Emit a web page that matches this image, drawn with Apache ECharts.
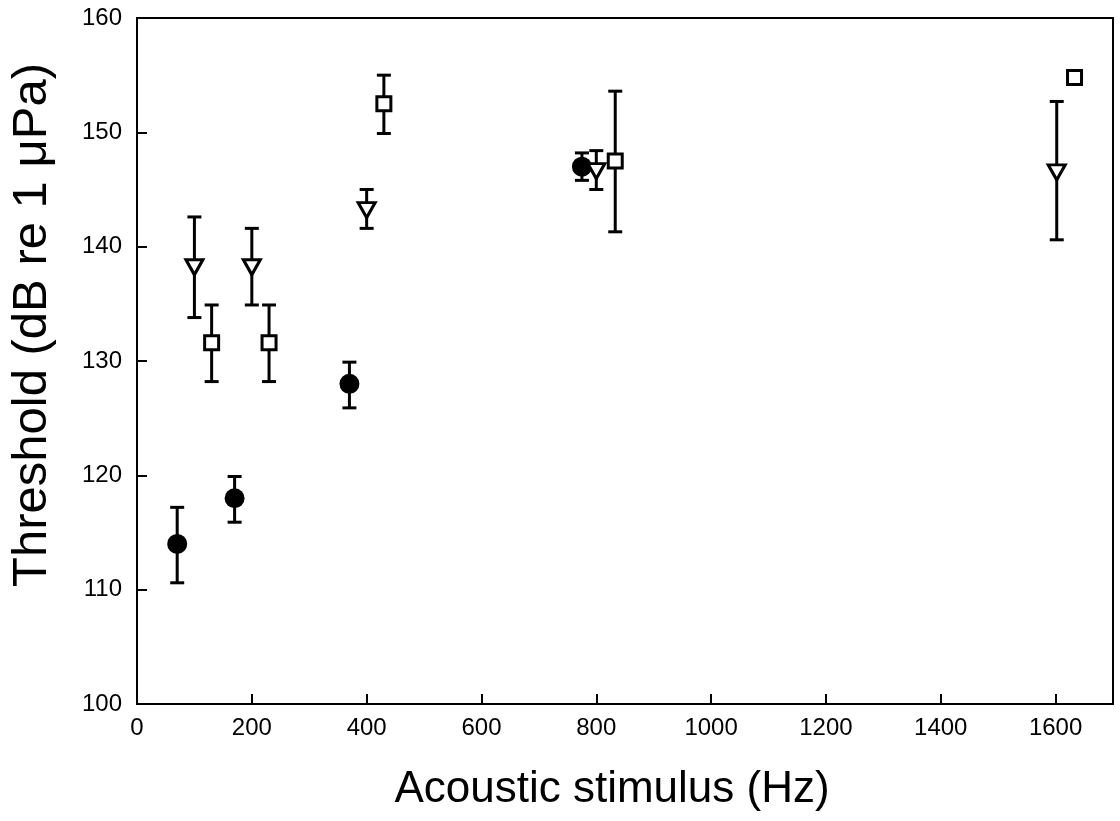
<!DOCTYPE html>
<html>
<head>
<meta charset="utf-8">
<script src="https://cdn.jsdelivr.net/npm/echarts@6/dist/echarts.min.js"></script>
<style>
html,body{margin:0;padding:0;background:#fff;}
#chart{width:1120px;height:821px;}
</style>
</head>
<body>
<div id="chart"></div>
<script>
// ---- Data ----
var xTickLabels = [0, 200, 400, 600, 800, 1000, 1200, 1400, 1600];
var yTickLabels = [100, 110, 120, 130, 140, 150, 160];

// filled circles
var circleFreq = [70, 170, 370, 775];
var circleMean = [114, 118, 128, 147];
var circleLow  = [110.6, 115.9, 125.9, 145.8];
var circleHigh = [117.2, 119.9, 129.9, 148.2];

// open down-triangles
var triFreq = [100, 200, 400, 800, 1602];
var triMean = [138.2, 138.2, 143.2, 146.6, 146.5];
var triLow  = [133.8, 134.9, 141.6, 145.0, 140.6];
var triHigh = [142.6, 141.6, 145.0, 148.4, 152.7];

// open squares
var sqFreq = [130, 230, 430, 833, 1633];
var sqMean = [131.6, 131.6, 152.5, 147.5, 154.8];
var sqLow  = [128.2, 128.2, 149.9, 141.3, null];
var sqHigh = [134.9, 134.9, 155.0, 153.6, null];

function pts(f, m) { return f.map(function (v, i) { return [v, m[i]]; }); }
function errs(f, lo, hi) {
  var out = [];
  f.forEach(function (v, i) { if (lo[i] != null && hi[i] != null) out.push([v, lo[i], hi[i]]); });
  return out;
}
var allErr = errs(circleFreq, circleLow, circleHigh)
  .concat(errs(triFreq, triLow, triHigh))
  .concat(errs(sqFreq, sqLow, sqHigh));

var FONT = '"Liberation Sans", Arial, sans-serif';

var chart = echarts.init(document.getElementById('chart'), null, {renderer: 'canvas'});
chart.setOption({
  animation: false,
  backgroundColor: '#fff',
  grid: {
    left: 137, top: 18, right: 7, bottom: 117,
    show: true, borderColor: '#000', borderWidth: 2, backgroundColor: 'transparent'
  },
  xAxis: {
    type: 'value', min: 0, max: 1700, interval: 200,
    name: 'Acoustic stimulus (Hz)', nameLocation: 'middle', nameGap: 64,
    nameTextStyle: {fontFamily: FONT, fontSize: 44, color: '#000', padding: [0, 26, 0, 0]},
    axisLine: {show: true, lineStyle: {color: '#000', width: 2}},
    axisTick: {show: true, inside: true, length: 10, lineStyle: {color: '#000', width: 2}},
    axisLabel: {
      fontFamily: FONT, fontSize: 24, color: '#000', margin: 12,
      formatter: function (v) { return xTickLabels.indexOf(v) >= 0 ? String(v) : ''; }
    },
    splitLine: {show: false}
  },
  yAxis: {
    type: 'value', min: 100, max: 160, interval: 10,
    name: 'Threshold (dB re 1 \u03BCPa)', nameLocation: 'middle', nameGap: 80,
    nameTextStyle: {fontFamily: FONT, fontSize: 49, color: '#000', padding: [0, 0, 0, 72]},
    axisLine: {show: true, lineStyle: {color: '#000', width: 2}},
    axisTick: {show: true, inside: true, length: 10, lineStyle: {color: '#000', width: 2}},
    axisLabel: {
      fontFamily: FONT, fontSize: 24, color: '#000', margin: 15,
      formatter: function (v) { return yTickLabels.indexOf(v) >= 0 ? String(v) : ''; }
    },
    splitLine: {show: false}
  },
  series: [
    {
      type: 'custom', name: 'errors', z: 1,
      data: allErr,
      renderItem: function (params, api) {
        var x = api.value(0);
        var lo = api.coord([x, api.value(1)]);
        var hi = api.coord([x, api.value(2)]);
        var cw = 7;
        var st = {stroke: '#000', lineWidth: 3};
        return {
          type: 'group',
          children: [
            {type: 'line', shape: {x1: lo[0], y1: lo[1], x2: hi[0], y2: hi[1]}, style: st},
            {type: 'line', shape: {x1: lo[0] - cw, y1: lo[1], x2: lo[0] + cw, y2: lo[1]}, style: st},
            {type: 'line', shape: {x1: hi[0] - cw, y1: hi[1], x2: hi[0] + cw, y2: hi[1]}, style: st}
          ]
        };
      }
    },
    {
      type: 'scatter', name: 'circles', z: 3,
      data: pts(circleFreq, circleMean),
      symbol: 'circle', symbolSize: 20,
      itemStyle: {color: '#000', opacity: 1}
    },
    {
      type: 'scatter', name: 'triangles', z: 3,
      data: pts(triFreq, triMean),
      symbol: 'triangle', symbolSize: [17, 15], symbolRotate: 180,
      itemStyle: {color: '#fff', borderColor: '#000', borderWidth: 3, opacity: 1}
    },
    {
      type: 'scatter', name: 'squares', z: 3,
      data: pts(sqFreq, sqMean),
      symbol: 'rect', symbolSize: 14,
      itemStyle: {color: '#fff', borderColor: '#000', borderWidth: 3, opacity: 1}
    }
  ]
});
</script>
</body>
</html>
